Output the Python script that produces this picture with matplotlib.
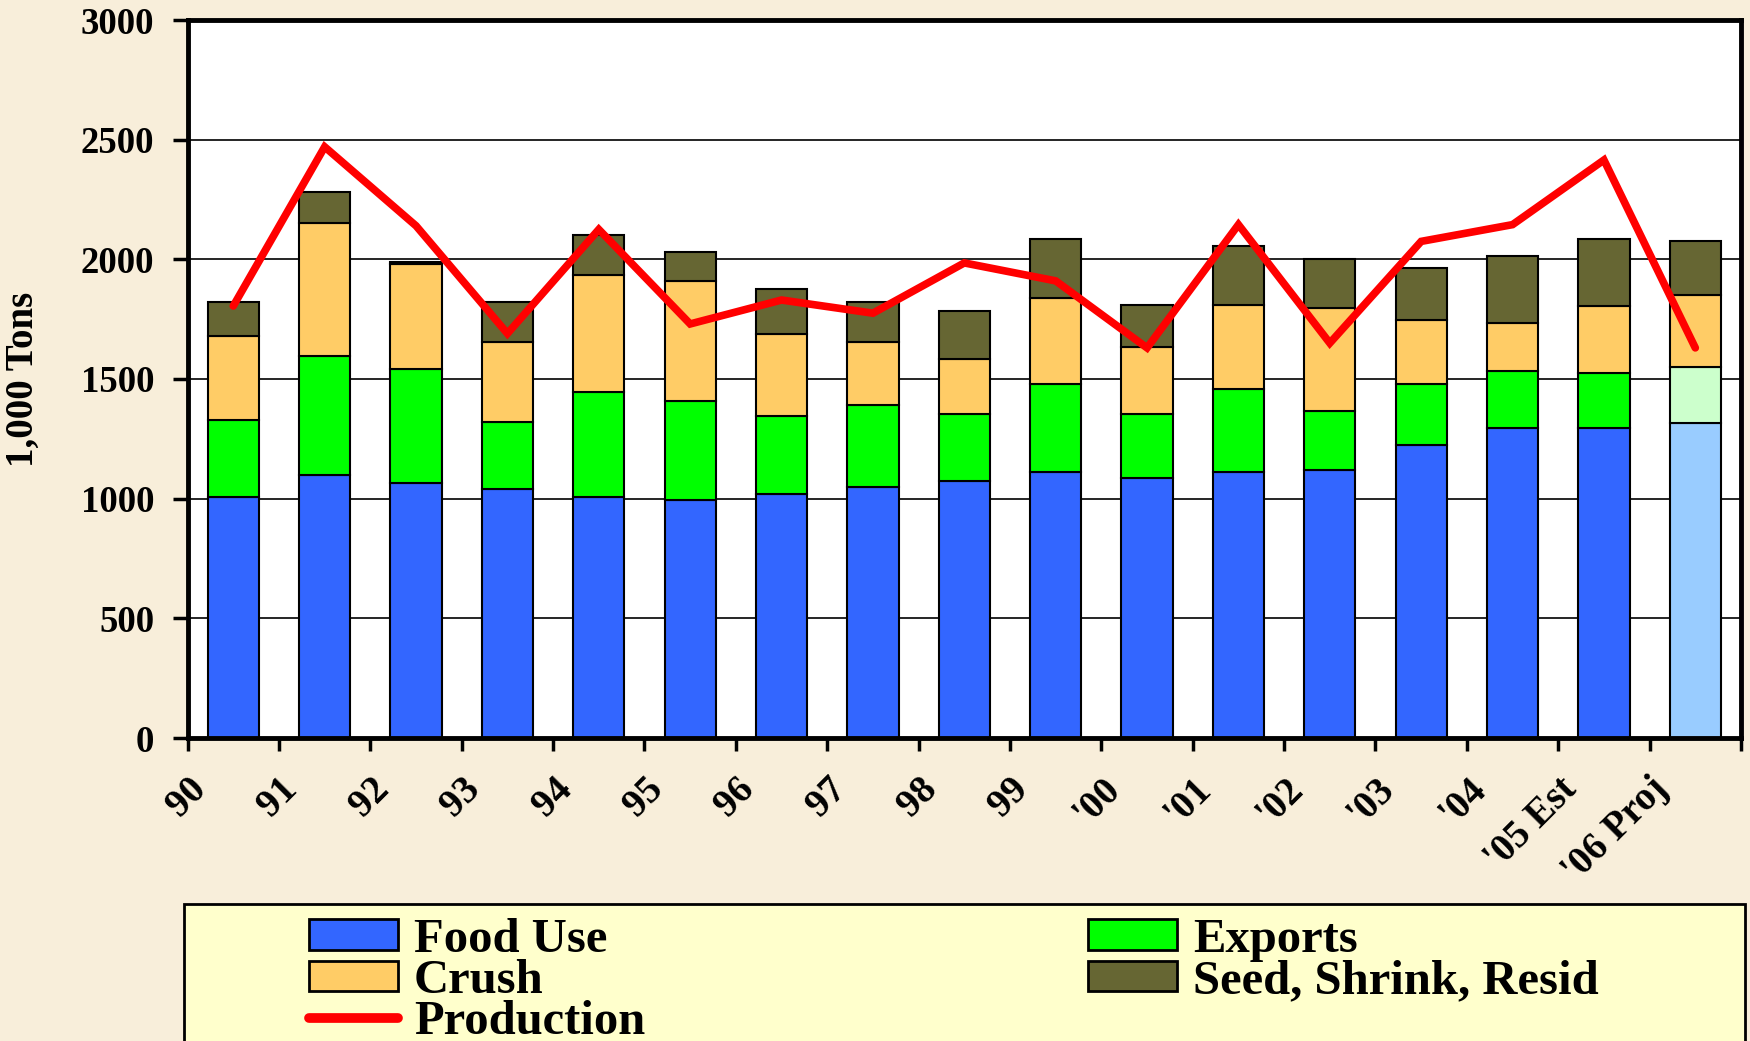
import numpy as np
import matplotlib
matplotlib.use('Agg')
import matplotlib.pyplot as plt
from matplotlib.patches import Patch, Rectangle
from matplotlib.lines import Line2D

plt.rcParams['font.family'] = ['Liberation Serif', 'DejaVu Serif']
plt.rcParams['font.weight'] = 'bold'

# datos (1,000 Tons)
years = ['90', '91', '92', '93', '94', '95', '96', '97', '98', '99',
         "'00", "'01", "'02", "'03", "'04", "'05 Est", "'06 Proj"]
food_use = [1005, 1100, 1065, 1040, 1005, 995, 1020, 1050, 1075, 1110,
            1085, 1110, 1120, 1225, 1295, 1295, 1315]
exports = [325, 495, 475, 280, 440, 415, 325, 340, 280, 370,
           270, 350, 245, 255, 240, 230, 235]
crush = [350, 555, 440, 335, 490, 500, 345, 265, 230, 360,
         280, 350, 430, 265, 200, 280, 300]
seed_shrink = [140, 130, 10, 165, 165, 120, 185, 165, 200, 245,
               175, 245, 205, 220, 280, 280, 225]
production = [1805, 2470, 2140, 1690, 2125, 1730, 1830, 1775, 1985, 1910,
              1630, 2145, 1650, 2075, 2145, 2415, 1630]

BG = '#F8EEDA'
C_FOOD, C_FOOD_PROJ = '#3366FF', '#99CCFF'
C_EXP, C_EXP_PROJ = '#00FF00', '#CCFFCC'
C_CRUSH = '#FFCC66'
C_SEED = '#666633'
C_PROD = '#FF0000'

n = len(years)
x = np.arange(n)
food_colors = [C_FOOD] * (n - 1) + [C_FOOD_PROJ]
exp_colors = [C_EXP] * (n - 1) + [C_EXP_PROJ]

fig = plt.figure(figsize=(17.5, 10.41), dpi=100, facecolor=BG)
ax = fig.add_axes([187.6 / 1750, 1 - 738 / 1041, (1741 - 187.6) / 1750, (738 - 20) / 1041])
ax.set_facecolor('white')

w = 0.56
kw = dict(width=w, edgecolor='black', linewidth=1.5, zorder=2)
b1 = np.array(food_use)
b2 = b1 + np.array(exports)
b3 = b2 + np.array(crush)
ax.bar(x, food_use, color=food_colors, **kw)
ax.bar(x, exports, bottom=b1, color=exp_colors, **kw)
ax.bar(x, crush, bottom=b2, color=C_CRUSH, **kw)
ax.bar(x, seed_shrink, bottom=b3, color=C_SEED, **kw)
ax.plot(x, production, color=C_PROD, linewidth=5.5, solid_capstyle='round',
        solid_joinstyle='miter', zorder=3)

ax.set_xlim(-0.5, n - 0.5)
ax.set_ylim(0, 3000)
ax.set_yticks(np.arange(0, 3001, 500))
ax.yaxis.grid(True, color='black', linewidth=1.2)
ax.set_axisbelow(True)
for s in ax.spines.values():
    s.set_linewidth(3.5)
    s.set_color('black')

ax.tick_params(axis='y', length=11, width=2.5, pad=13, labelsize=26.5)
ax.tick_params(axis='x', length=9.5, width=2.5, pad=14, labelsize=28)
ax.set_xticks(np.arange(n + 1) - 0.5)
ax.set_xticklabels(years + [''], rotation=45, ha='right', va='top',
                   rotation_mode='anchor')

ax.set_ylabel('1,000 Tons', fontsize=28, fontweight='bold')
ax.yaxis.set_label_coords(-0.094, 0.5)

# caja de la leyenda (cortada por el borde inferior)
fig.patches.append(Rectangle((184 / 1750, -0.1), (1745 - 184) / 1750,
                             (1041 - 904) / 1041 + 0.1, transform=fig.transFigure,
                             facecolor='#FFFFCC', edgecolor='black', linewidth=2,
                             zorder=0))

pk = dict(edgecolor='black', linewidth=2)
h_food = Patch(facecolor=C_FOOD, label='Food Use', **pk)
h_crush = Patch(facecolor=C_CRUSH, label='Crush', **pk)
h_prod = Line2D([], [], color=C_PROD, linewidth=7, solid_capstyle='round', label='Production')
h_exp = Patch(facecolor=C_EXP, label='Exports', **pk)
h_seed = Patch(facecolor=C_SEED, label='Seed, Shrink, Resid', **pk)

lk = dict(loc='upper left', frameon=False, fontsize=35, borderpad=0, borderaxespad=0,
          handlelength=1.83, handleheight=0.6, handletextpad=0.33, labelspacing=-0.06)
fig.legend(handles=[h_food, h_crush, h_prod], bbox_to_anchor=(309 / 1750, 1 - 918 / 1041), **lk)
fig.legend(handles=[h_exp, h_seed], bbox_to_anchor=(1088 / 1750, 1 - 918 / 1041), **lk)

fig.savefig('out.png', dpi=100, facecolor=BG)
